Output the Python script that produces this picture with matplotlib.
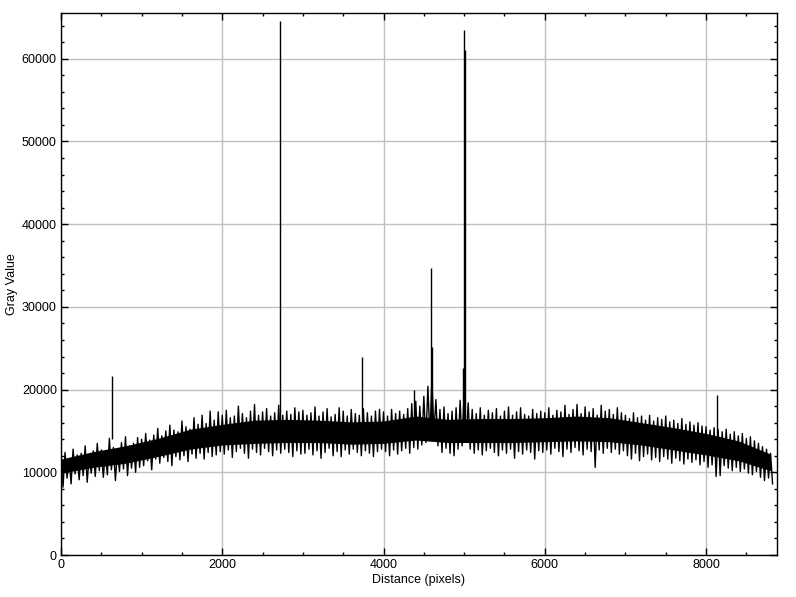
import numpy as np
import matplotlib
matplotlib.use("Agg")
import matplotlib.pyplot as plt
from matplotlib.ticker import MultipleLocator

plt.rcParams['font.family'] = ['Liberation Sans', 'DejaVu Sans']

# upper noise tips (read every 50 px of distance) and lower tips (offset by 25 px)
hi_x = np.arange(0, 8801, 50)
lo_x = np.arange(25, 8826, 50)

tip_hi = [
    11900, 12400, 11600, 12800, 12100, 12300, 13200, 12000, 12600, 13500, 12700, 12400, 14100, 13000, 12800, 13600, 14300, 13200, 13500, 14200,
    14000, 14700, 13900, 14500, 15300, 14400, 15000, 15700, 15100, 14900, 16200, 15500, 15200, 16600, 15800, 16900, 15900, 17400, 16300, 17300,
    16900, 17500, 16600, 16800, 18000, 17100, 16600, 17400, 18200, 16900, 17300, 17700, 16800, 17200, 18100, 16900, 17400, 17000, 17800, 17300,
    17500, 16900, 17200, 17900, 16800, 17300, 17700, 16700, 17000, 17800, 17400, 16800, 17600, 17100, 16900, 17700, 17200, 16800, 17400, 17600,
    17300, 16800, 17600, 17100, 17400, 17000, 17700, 18300, 18600, 18000, 19200, 20400, 21200, 18800, 17600, 17900, 17100, 17400, 17800, 18700,
    19800, 18400, 17600, 17100, 17800, 16900, 17500, 17200, 17700, 16800, 17400, 17900, 16900, 17300, 17800, 17000, 16800, 17600, 17100, 17400,
    17200, 17800, 16900, 17500, 17300, 18100, 17000, 17600, 18200, 17100, 17900, 17300, 17700, 16900, 18100, 17400, 17600, 17000, 17800, 17200,
    16900, 16500, 17200, 16600, 16800, 16300, 16900, 16200, 16600, 16400, 16800, 16100, 16300, 15900, 16500, 15800, 16100, 15700, 16000, 15600,
    15500, 15100, 15400, 15200, 14900, 15200, 14600, 14900, 14400, 14700, 14100, 14300, 13800, 13500, 13100, 12800, 12300,
]

tip_lo = [
    8200, 9300, 8600, 9800, 9100, 9600, 8800, 9900, 9500, 10200, 9400, 9700, 10300, 9000, 10100, 10400, 9600, 10500, 10000, 10600,
    10800, 11400, 10300, 11600, 11100, 11800, 11300, 10800, 11900, 11500, 12000, 11300, 12200, 11700, 12300, 11600, 12400, 11900, 12100, 12500,
    12200, 12700, 11800, 12500, 12900, 12300, 11700, 12800, 12400, 12100, 12900, 12500, 12000, 12700, 12300, 12800, 12400, 11900, 12600, 12200,
    12300, 12800, 12100, 12600, 11700, 12400, 12900, 12000, 12500, 11900, 12700, 12200, 12800, 12400, 12000, 12600, 12300, 11900, 12500, 12800,
    12500, 12000, 12700, 12200, 12600, 12900, 12300, 13000, 12800, 13300, 13600, 14200, 14800, 13200, 12400, 12900, 12300, 12000, 12800, 13200,
    14000, 12800, 12300, 12700, 12100, 12600, 12900, 12400, 12000, 12700, 12300, 12800, 11700, 12500, 12200, 12700, 12400, 11600, 12600, 12400,
    12700, 12200, 12900, 12500, 11900, 12800, 12400, 13000, 12600, 12100, 12800, 12500, 10600, 12700, 12300, 12900, 12400, 12800, 12200, 12600,
    12000, 11600, 12300, 11400, 11900, 12200, 11500, 11800, 11300, 11900, 11600, 11100, 11700, 11400, 11000, 11600, 11200, 11500, 10900, 11300,
    10600, 10900, 9500, 9600, 10800, 10500, 10200, 10600, 10100, 10400, 9900, 9700, 10100, 9400, 9000, 9300, 8600,
]

# dense core of the profile band (every 400 px)
core_x = np.arange(0, 8801, 400)
core_lo = [9900, 10600, 11100, 11900, 12800, 13300, 13500, 13600, 13600, 13400, 13500, 13900,
           13600, 13600, 13600, 13700, 13800, 13700, 13300, 12700, 12100, 11400, 10200]
core_hi = [11600, 12500, 13200, 14100, 15200, 15800, 16300, 16400, 16300, 16100, 16200, 16800,
           16400, 16500, 16500, 16600, 16800, 16600, 16000, 15400, 14700, 13800, 12200]

# isolated bright peaks
spike_x = [632, 2716, 3732, 4377, 4588, 4596, 4985, 5000, 5008, 8134]
spike_y = [21600, 64600, 24000, 20000, 34700, 25200, 22600, 63500, 61100, 19300]
spike_base = 14000

# interleave upper and lower tips into one noisy trace
trace_x = np.empty(len(hi_x) * 2)
trace_y = np.empty(len(hi_x) * 2)
trace_x[0::2] = hi_x
trace_x[1::2] = lo_x
trace_y[0::2] = tip_hi
trace_y[1::2] = tip_lo

fig = plt.figure(figsize=(7.96, 5.97), dpi=100)
ax = fig.add_axes([61/796, 1 - 555/597, (777 - 61)/796, (555 - 13)/597])

ax.grid(True, color='#c0c0c0', linewidth=1.0, zorder=0)
ax.set_axisbelow(True)

ax.fill_between(core_x, core_lo, core_hi, color='black', linewidth=0, zorder=2)
ax.plot(trace_x, trace_y, color='black', linewidth=1.0, zorder=3)
ax.vlines(spike_x, spike_base, spike_y, color='black', linewidth=1.0, zorder=4)

ax.set_xlim(0, 8880)
ax.set_ylim(0, 65535)
ax.xaxis.set_major_locator(MultipleLocator(2000))
ax.xaxis.set_minor_locator(MultipleLocator(500))
ax.yaxis.set_major_locator(MultipleLocator(10000))
ax.yaxis.set_minor_locator(MultipleLocator(2000))

ax.tick_params(which='both', direction='in', top=True, right=True, labelsize=9, width=1.0, pad=3)
ax.tick_params(which='major', length=5)
ax.tick_params(which='minor', length=2.5)
for s in ax.spines.values():
    s.set_linewidth(1.0)
    s.set_color('black')

ax.set_xlabel('Distance (pixels)', fontsize=9, labelpad=2)
ax.set_ylabel('Gray Value', fontsize=9, labelpad=2.5)

fig.savefig('out.png', dpi=100)
